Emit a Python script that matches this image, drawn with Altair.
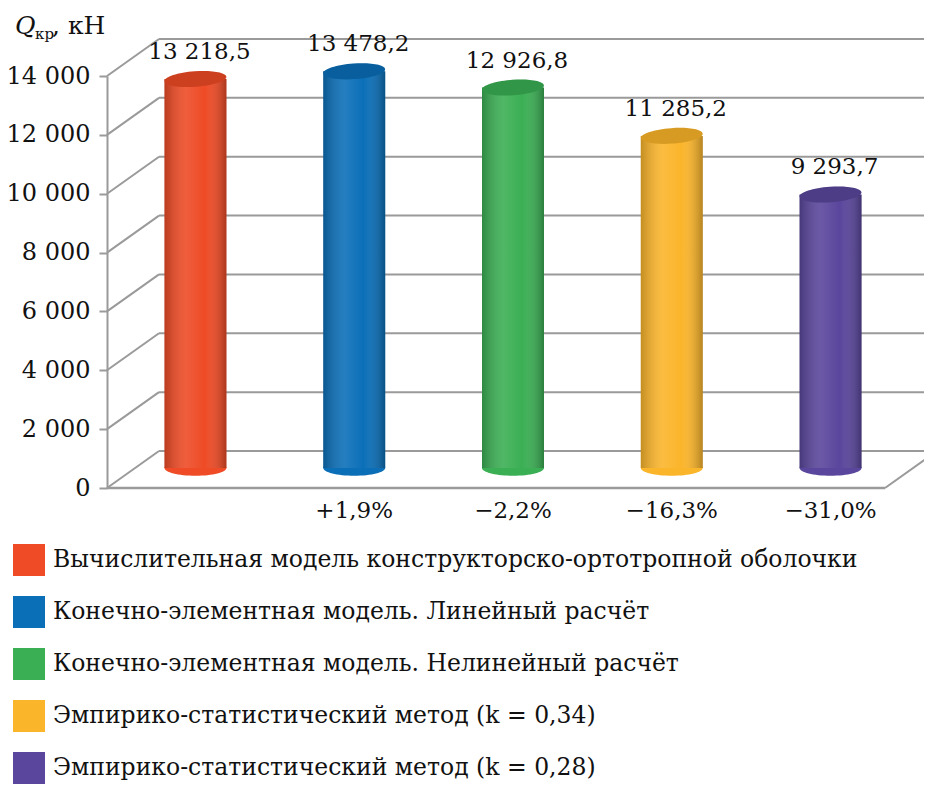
import altair as alt
import pandas as pd

# ---- data ----
categories = [
    "Вычислительная модель конструкторско-ортотропной оболочки",
    "Конечно-элементная модель. Линейный расчёт",
    "Конечно-элементная модель. Нелинейный расчёт",
    "Эмпирико-статистический метод (k = 0,34)",
    "Эмпирико-статистический метод (k = 0,28)",
]
values = [13218.5, 13478.2, 12926.8, 11285.2, 9293.7]
deltas = ["", "+1,9%", "−2,2%", "−16,3%", "−31,0%"]
colors = ["#EE4B26", "#0B6FB8", "#3BAF54", "#FBB52B", "#5A469C"]
y_ticks = [0, 2000, 4000, 6000, 8000, 10000, 12000, 14000]


def fmt(v):
    return f"{v:,.1f}".replace(",", " ").replace(".", ",")


labels = [fmt(v) for v in values]

df = pd.DataFrame({"cat": categories, "value": values, "delta": deltas, "label": labels})
grid_df = pd.DataFrame({"v": y_ticks})
zero_df = pd.DataFrame({"v": [0]})

# ---- layout / style ----
W, H = 778, 412
DX, DY = 52, -37      # depth offset of back wall
BX, BY = 17, -20      # offset of cylinders (mid depth)
BAR_W = 62
GRID = "#9a9a9a"
SERIF = "DejaVu Serif"
ELLIPSE = "M -1 0 A 1 0.25 0 1 1 1 0 A 1 0.25 0 1 1 -1 0 Z"

xscale = alt.Scale(type="point", domain=categories, padding=0.45)
yscale = alt.Scale(domain=[0, 14000], nice=False, zero=True)
cscale = alt.Scale(domain=categories, range=colors)

xs = alt.X("cat:N", scale=xscale, axis=None)

yaxis = alt.Axis(
    values=y_ticks, title=None, grid=False,
    labelFont=SERIF, labelFontSize=24, labelColor="#111111",
    labelExpr="replace(format(datum.value, ','), ',', ' ')",
    labelPadding=9, tickSize=8, tickWidth=2, tickColor=GRID,
    domainColor=GRID, domainWidth=2,
)

legend = alt.Legend(
    orient="none", legendX=-94, legendY=468, title=None,
    symbolType="square", symbolSize=1024, symbolStrokeWidth=0, symbolOpacity=1,
    labelFont=SERIF, labelFontSize=23.5, labelColor="#111111", labelLimit=0,
    labelOffset=8, rowPadding=20, padding=0, direction="vertical",
)


def Yf(field):
    return alt.Y(field, scale=yscale, axis=yaxis)


Y0 = alt.YDatum(0, scale=yscale, axis=yaxis)
C = alt.Color("cat:N", scale=cscale, legend=legend)

diag = alt.Chart(grid_df).mark_rule(color=GRID, strokeWidth=2, y2Offset=DY).encode(
    x=alt.value(0), x2=alt.value(DX), y=Yf("v:Q"), y2="v:Q",
)
back = alt.Chart(grid_df).mark_rule(color=GRID, strokeWidth=2, yOffset=DY).encode(
    x=alt.value(DX), x2=alt.value(W + 60), y=Yf("v:Q"),
)
floor_front = alt.Chart(zero_df).mark_rule(color=GRID, strokeWidth=2.5).encode(
    x=alt.value(0), x2=alt.value(W), y=Yf("v:Q"),
)
floor_right = alt.Chart(zero_df).mark_rule(color=GRID, strokeWidth=2, y2Offset=DY).encode(
    x=alt.value(W), x2=alt.value(W + DX), y=Yf("v:Q"), y2="v:Q",
)

bottom_cap = alt.Chart(df).mark_point(
    shape=ELLIPSE, size=BAR_W * BAR_W, filled=True, opacity=1, xOffset=BX, yOffset=BY
).encode(x=xs, y=Y0, color=C)

bars = alt.Chart(df).mark_bar(size=BAR_W, xOffset=BX, yOffset=BY, y2Offset=BY).encode(
    x=xs, y=Yf("value:Q"), color=C,
)

shade = alt.Gradient(
    gradient="linear", x1=0, x2=1, y1=0, y2=0,
    stops=[
        alt.GradientStop(color="rgba(0,0,0,0.22)", offset=0),
        alt.GradientStop(color="rgba(255,255,255,0.10)", offset=0.35),
        alt.GradientStop(color="rgba(255,255,255,0.0)", offset=0.65),
        alt.GradientStop(color="rgba(0,0,0,0.28)", offset=1),
    ],
)
shade_bars = alt.Chart(df).mark_bar(size=BAR_W, xOffset=BX, yOffset=BY, y2Offset=BY, color=shade).encode(
    x=xs, y=Yf("value:Q"),
)

top_cap = alt.Chart(df).mark_point(
    shape=ELLIPSE, size=BAR_W * BAR_W, filled=True, opacity=1, xOffset=BX, yOffset=BY, angle=356
).encode(x=xs, y=Yf("value:Q"), color=C)
top_dark = alt.Chart(df).mark_point(
    shape=ELLIPSE, size=BAR_W * BAR_W, filled=True, opacity=0.14, color="#000000",
    xOffset=BX, yOffset=BY, angle=356
).encode(x=xs, y=Yf("value:Q"))

value_text = alt.Chart(df).mark_text(
    font=SERIF, fontSize=23, color="#111111", xOffset=BX + 4, yOffset=BY, dy=-27, baseline="middle"
).encode(x=xs, y=Yf("value:Q"), text="label:N")

delta_text = alt.Chart(df).mark_text(
    font=SERIF, fontSize=23, color="#111111", xOffset=BX, dy=23, baseline="middle"
).encode(x=xs, y=Y0, text="delta:N")

t1 = alt.Chart(pd.DataFrame({"t": ["Q"]})).mark_text(
    font=SERIF, fontSize=25, fontStyle="italic", color="#111111", align="left", baseline="alphabetic"
).encode(x=alt.value(-92), y=alt.value(-42), text="t:N")
t2 = alt.Chart(pd.DataFrame({"t": ["кр"]})).mark_text(
    font=SERIF, fontSize=15, color="#111111", align="left", baseline="alphabetic"
).encode(x=alt.value(-72), y=alt.value(-37), text="t:N")
t3 = alt.Chart(pd.DataFrame({"t": [", кН"]})).mark_text(
    font=SERIF, fontSize=25, color="#111111", align="left", baseline="alphabetic"
).encode(x=alt.value(-55), y=alt.value(-42), text="t:N")

chart = alt.layer(
    diag, back, floor_front, floor_right,
    bottom_cap, bars, shade_bars, top_cap, top_dark,
    value_text, delta_text, t1, t2, t3,
).properties(
    width=W, height=H,
    padding={"left": 99, "top": 68, "right": 39, "bottom": 296},
    autosize=alt.AutoSizeParams(type="none"),
    background="white",
).configure_view(strokeWidth=0)

chart.save("out.html", embed_options={"renderer": "svg", "actions": False})
